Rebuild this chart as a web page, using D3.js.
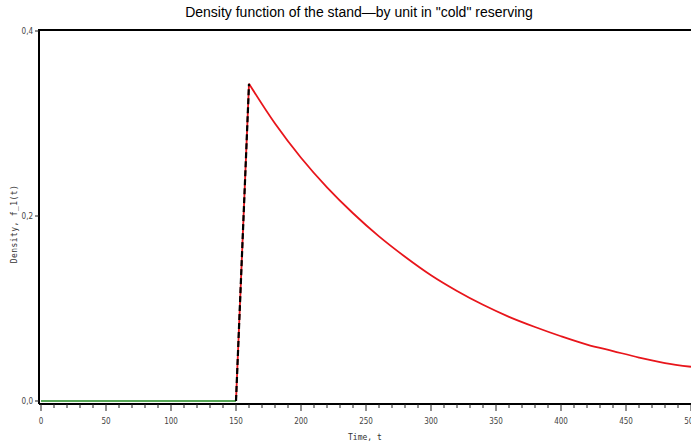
<!DOCTYPE html>
<html>
<head>
<meta charset="utf-8">
<script src="https://cdn.jsdelivr.net/npm/d3@7"></script>
<style>
  body { margin: 0; background: #fff; }
  svg { display: block; }
</style>
</head>
<body>
<div id="chart"></div>
<script>
// Data
const flatT = [0, 150];
const flatF = [0, 0];
const riseT = [150, 160];
const riseF = [0, 0.343];
const decayT = [160, 180, 200, 220, 240, 260, 280, 300, 320, 340, 360, 380, 400, 420, 440, 460, 480, 500];
const decayF = [0.343, 0.300, 0.263, 0.231, 0.203, 0.178, 0.156, 0.136, 0.119, 0.104, 0.091, 0.080, 0.070, 0.061, 0.054, 0.047, 0.041, 0.037];
const xTicks = [0, 50, 100, 150, 200, 250, 300, 350, 400, 450, 500];
const yTicks = [0, 0.2, 0.4];

const width = 691;
const height = 445;

const svg = d3.select("#chart").append("svg")
    .attr("width", width)
    .attr("height", height);

const x = d3.scaleLinear().domain([0, 500]).range([41, 691]);
const y = d3.scaleLinear().domain([0, 0.4]).range([401, 31]);

// Title
svg.append("text")
    .attr("x", 359)
    .attr("y", 17)
    .attr("text-anchor", "middle")
    .attr("font-family", "Liberation Sans, Arial, sans-serif")
    .attr("font-size", 14)
    .text("Density function of the stand\u2014by unit in \"cold\" reserving");

// Frame
svg.append("path")
    .attr("d", "M39,404 L39,30 L691,30")
    .attr("fill", "none")
    .attr("stroke", "#000")
    .attr("stroke-width", 2);

// Lines
const line = d3.line().x(d => x(d[0])).y(d => y(d[1]));
const curve = d3.line().x(d => x(d[0])).y(d => y(d[1])).curve(d3.curveCatmullRom);

svg.append("path")
    .datum(riseT.map((t, i) => [t, riseF[i]]))
    .attr("d", line)
    .attr("fill", "none")
    .attr("stroke", "#e8151b")
    .attr("stroke-width", 1.8);

svg.append("path")
    .datum(decayT.map((t, i) => [t, decayF[i]]))
    .attr("d", curve)
    .attr("fill", "none")
    .attr("stroke", "#e8151b")
    .attr("stroke-width", 1.8);

svg.append("path")
    .datum(flatT.map((t, i) => [t, flatF[i]]))
    .attr("d", line)
    .attr("fill", "none")
    .attr("stroke", "#1e8a1e")
    .attr("stroke-width", 1.6);

svg.append("path")
    .datum(riseT.map((t, i) => [t, riseF[i]]))
    .attr("d", line)
    .attr("fill", "none")
    .attr("stroke", "#000")
    .attr("stroke-width", 2.2)
    .attr("stroke-dasharray", "6,3");

// X axis
const xAxis = svg.append("g").attr("transform", "translate(0,404)");
xAxis.append("line")
    .attr("x1", 39).attr("x2", 691)
    .attr("stroke", "#000").attr("stroke-width", 2.2);

const minor = d3.range(0, 501, 10);
xAxis.selectAll(".minor")
    .data(minor)
    .join("line")
    .attr("x1", d => x(d)).attr("x2", d => x(d))
    .attr("y1", 0).attr("y2", d => d % 50 === 0 ? 7 : 4)
    .attr("stroke", "#222").attr("stroke-width", 1);

xAxis.selectAll(".lbl")
    .data(xTicks)
    .join("text")
    .attr("x", d => x(d))
    .attr("y", 20)
    .attr("text-anchor", "middle")
    .attr("font-family", "Liberation Sans Narrow, DejaVu Sans Condensed, sans-serif")
    .attr("font-size", 8)
    .attr("fill", "#444")
    .text(d => d);

svg.append("text")
    .attr("x", 348)
    .attr("y", 440)
    .attr("font-family", "DejaVu Sans Mono, monospace")
    .attr("font-size", 8)
    .attr("fill", "#333")
    .text("Time, t");

// Y axis
const yAxis = svg.append("g");
yAxis.selectAll("line")
    .data(yTicks)
    .join("line")
    .attr("x1", 35).attr("x2", 39)
    .attr("y1", d => y(d)).attr("y2", d => y(d))
    .attr("stroke", "#222").attr("stroke-width", 1);

yAxis.selectAll("text")
    .data(yTicks)
    .join("text")
    .attr("x", 33)
    .attr("y", d => y(d) + 3)
    .attr("text-anchor", "end")
    .attr("font-family", "Liberation Sans Narrow, DejaVu Sans Condensed, sans-serif")
    .attr("font-size", 8)
    .attr("fill", "#444")
    .text(d => d3.format(".1f")(d).replace(".", ","));

svg.append("text")
    .attr("transform", "translate(17,224) rotate(-90)")
    .attr("text-anchor", "middle")
    .attr("font-family", "DejaVu Sans Mono, monospace")
    .attr("font-size", 8)
    .attr("letter-spacing", 0.4)
    .attr("fill", "#333")
    .text("Density, f_1(t)");
</script>
</body>
</html>
